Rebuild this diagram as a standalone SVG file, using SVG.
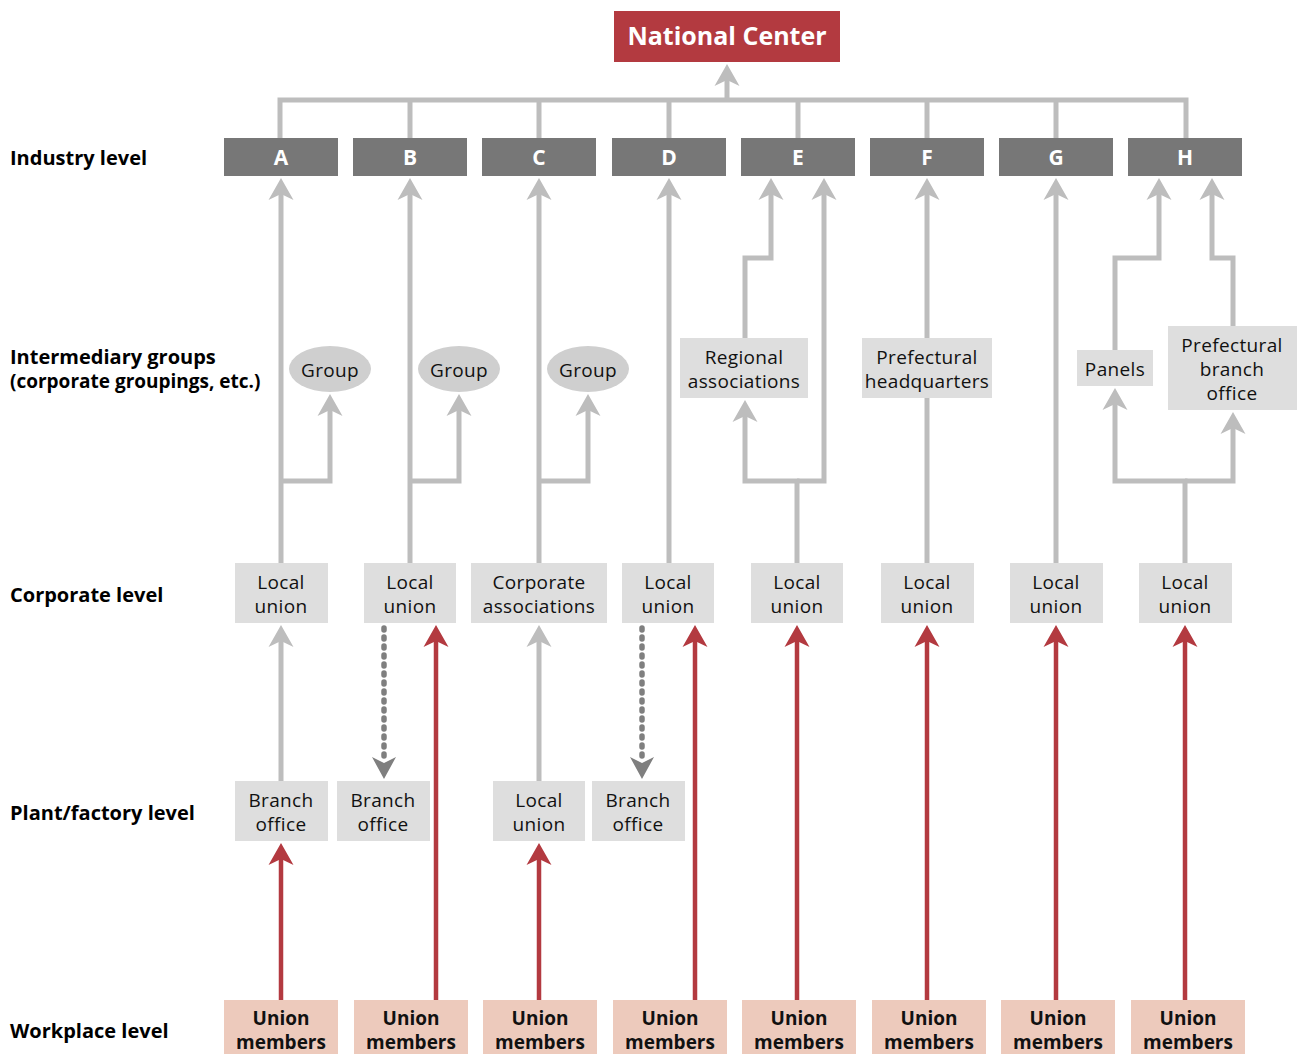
<svg xmlns="http://www.w3.org/2000/svg" width="1302" height="1054" viewBox="0 0 1302 1054">
<defs>
<style>
text{font-family:"Open Sans","Noto Sans","Liberation Sans",sans-serif;}
.lbl{font-size:20px;font-weight:bold;fill:#000;}
.t{font-size:19px;letter-spacing:0.35px;fill:#111;text-anchor:middle;}
.tb{font-size:19px;font-weight:bold;fill:#111;text-anchor:middle;}
.ind{font-size:21px;font-weight:bold;fill:#fff;text-anchor:middle;}
.box{fill:#dedede;}
.ibox{fill:#777777;}
.um{fill:#edcabc;}
.g{fill:none;stroke:#bdbdbd;stroke-width:5;}
.r{fill:none;stroke:#b33a40;stroke-width:4.5;}
.d{fill:none;stroke:#7f7f7f;stroke-width:5.5;stroke-linecap:round;stroke-dasharray:2 7;}
</style>
<marker id="ag" markerUnits="userSpaceOnUse" markerWidth="24" markerHeight="28" refX="6" refY="13" orient="auto" overflow="visible"><path d="M22,13 L0,0.5 L6,13 L0,25.5 Z" fill="#bdbdbd"/></marker>
<marker id="ar" markerUnits="userSpaceOnUse" markerWidth="24" markerHeight="28" refX="6" refY="13" orient="auto" overflow="visible"><path d="M22,13 L0,0.5 L6,13 L0,25.5 Z" fill="#b33a40"/></marker>
<marker id="ad" markerUnits="userSpaceOnUse" markerWidth="24" markerHeight="28" refX="6" refY="13" orient="auto" overflow="visible"><path d="M22,13 L0,1 L6,13 L0,25 Z" fill="#7f7f7f"/></marker>
</defs>
<rect width="1302" height="1054" fill="#fff"/>

<g id="level-labels">
<text class="lbl" x="10" y="165">Industry level</text>
<text class="lbl" x="10" y="364">Intermediary groups</text>
<text class="lbl" x="10" y="388" style="font-size:19px">(corporate groupings, etc.)</text>
<text class="lbl" x="10" y="602">Corporate level</text>
<text class="lbl" x="10" y="820">Plant/factory level</text>
<text class="lbl" x="10" y="1038">Workplace level</text>
</g>

<g id="connectors">
<path class="g" d="M280,138 V100 H1186 V138"/>
<path class="g" d="M410,100 V138 M539,100 V138 M669,100 V138 M798,100 V138 M927,100 V138 M1056,100 V138"/>
<path class="g" d="M727,100 V80" marker-end="url(#ag)"/>
<path class="g" d="M281,563 V194" marker-end="url(#ag)"/>
<path class="g" d="M281,481 H330 V410" marker-end="url(#ag)"/>
<path class="g" d="M410,563 V194" marker-end="url(#ag)"/>
<path class="g" d="M410,481 H459 V410" marker-end="url(#ag)"/>
<path class="g" d="M539,563 V194" marker-end="url(#ag)"/>
<path class="g" d="M539,481 H588 V410" marker-end="url(#ag)"/>
<path class="g" d="M669,563 V194" marker-end="url(#ag)"/>
<path class="g" d="M797,563 V481 H745 V416" marker-end="url(#ag)"/>
<path class="g" d="M797,481 H824 V194" marker-end="url(#ag)"/>
<path class="g" d="M745,338 V258 H771 V194" marker-end="url(#ag)"/>
<path class="g" d="M927,563 V194" marker-end="url(#ag)"/>
<path class="g" d="M1056,563 V194" marker-end="url(#ag)"/>
<path class="g" d="M1185,563 V481 H1115 V404" marker-end="url(#ag)"/>
<path class="g" d="M1185,481 H1233 V428" marker-end="url(#ag)"/>
<path class="g" d="M1115,350 V258 H1159 V194" marker-end="url(#ag)"/>
<path class="g" d="M1233,326 V258 H1212 V194" marker-end="url(#ag)"/>
<path class="g" d="M281,781 V641" marker-end="url(#ag)"/>
<path class="g" d="M539,781 V641" marker-end="url(#ag)"/>
<path class="d" d="M384,628 V763" marker-end="url(#ad)"/>
<path class="d" d="M642,628 V763" marker-end="url(#ad)"/>
<path class="r" d="M281,1000 V859" marker-end="url(#ar)"/>
<path class="r" d="M436,1000 V641" marker-end="url(#ar)"/>
<path class="r" d="M539,1000 V859" marker-end="url(#ar)"/>
<path class="r" d="M695,1000 V641" marker-end="url(#ar)"/>
<path class="r" d="M797,1000 V641" marker-end="url(#ar)"/>
<path class="r" d="M927,1000 V641" marker-end="url(#ar)"/>
<path class="r" d="M1056,1000 V641" marker-end="url(#ar)"/>
<path class="r" d="M1185,1000 V641" marker-end="url(#ar)"/>
</g>

<g id="national-center"><rect x="614" y="11" width="226" height="51" fill="#b33a40"/><text x="727" y="45" font-size="25" font-weight="bold" fill="#fff" text-anchor="middle">National Center</text></g>

<g id="ind-A"><rect class="ibox" x="224" y="138" width="114" height="38"/><text class="ind" x="281" y="165">A</text></g>
<g id="ind-B"><rect class="ibox" x="353" y="138" width="114" height="38"/><text class="ind" x="410" y="165">B</text></g>
<g id="ind-C"><rect class="ibox" x="482" y="138" width="114" height="38"/><text class="ind" x="539" y="165">C</text></g>
<g id="ind-D"><rect class="ibox" x="612" y="138" width="114" height="38"/><text class="ind" x="669" y="165">D</text></g>
<g id="ind-E"><rect class="ibox" x="741" y="138" width="114" height="38"/><text class="ind" x="798" y="165">E</text></g>
<g id="ind-F"><rect class="ibox" x="870" y="138" width="114" height="38"/><text class="ind" x="927" y="165">F</text></g>
<g id="ind-G"><rect class="ibox" x="999" y="138" width="114" height="38"/><text class="ind" x="1056" y="165">G</text></g>
<g id="ind-H"><rect class="ibox" x="1128" y="138" width="114" height="38"/><text class="ind" x="1185" y="165">H</text></g>

<g id="group-A"><ellipse cx="330" cy="369" rx="41" ry="23" fill="#cfcfcf"/><text class="t" x="330" y="377">Group</text></g>
<g id="group-B"><ellipse cx="459" cy="369" rx="41" ry="23" fill="#cfcfcf"/><text class="t" x="459" y="377">Group</text></g>
<g id="group-C"><ellipse cx="588" cy="369" rx="41" ry="23" fill="#cfcfcf"/><text class="t" x="588" y="377">Group</text></g>
<g id="regional"><rect class="box" x="680" y="338" width="128" height="60"/><text class="t" x="744" y="364">Regional</text><text class="t" x="744" y="388">associations</text></g>
<g id="pref-hq"><rect class="box" x="862" y="338" width="130" height="60"/><text class="t" x="927" y="364">Prefectural</text><text class="t" x="927" y="388">headquarters</text></g>
<g id="panels"><rect class="box" x="1077" y="350" width="76" height="36"/><text class="t" x="1115" y="376">Panels</text></g>
<g id="pref-branch"><rect class="box" x="1168" y="326" width="129" height="84"/><text class="t" x="1232" y="352">Prefectural</text><text class="t" x="1232" y="376">branch</text><text class="t" x="1232" y="400">office</text></g>

<g id="corp-A"><rect class="box" x="235" y="563" width="93" height="60"/><text class="t" x="281" y="589">Local</text><text class="t" x="281" y="613">union</text></g>
<g id="corp-B"><rect class="box" x="364" y="563" width="92" height="60"/><text class="t" x="410" y="589">Local</text><text class="t" x="410" y="613">union</text></g>
<g id="corp-C"><rect class="box" x="471" y="563" width="136" height="60"/><text class="t" x="539" y="589">Corporate</text><text class="t" x="539" y="613">associations</text></g>
<g id="corp-D"><rect class="box" x="622" y="563" width="92" height="60"/><text class="t" x="668" y="589">Local</text><text class="t" x="668" y="613">union</text></g>
<g id="corp-E"><rect class="box" x="751" y="563" width="92" height="60"/><text class="t" x="797" y="589">Local</text><text class="t" x="797" y="613">union</text></g>
<g id="corp-F"><rect class="box" x="881" y="563" width="93" height="60"/><text class="t" x="927" y="589">Local</text><text class="t" x="927" y="613">union</text></g>
<g id="corp-G"><rect class="box" x="1010" y="563" width="93" height="60"/><text class="t" x="1056" y="589">Local</text><text class="t" x="1056" y="613">union</text></g>
<g id="corp-H"><rect class="box" x="1139" y="563" width="93" height="60"/><text class="t" x="1185" y="589">Local</text><text class="t" x="1185" y="613">union</text></g>

<g id="plant-A"><rect class="box" x="235" y="781" width="93" height="60"/><text class="t" x="281" y="807">Branch</text><text class="t" x="281" y="831">office</text></g>
<g id="plant-B"><rect class="box" x="337" y="781" width="93" height="60"/><text class="t" x="383" y="807">Branch</text><text class="t" x="383" y="831">office</text></g>
<g id="plant-C"><rect class="box" x="493" y="781" width="92" height="60"/><text class="t" x="539" y="807">Local</text><text class="t" x="539" y="831">union</text></g>
<g id="plant-D"><rect class="box" x="592" y="781" width="93" height="60"/><text class="t" x="638" y="807">Branch</text><text class="t" x="638" y="831">office</text></g>

<g id="um-A"><rect class="um" x="224" y="1000" width="114" height="54"/><text class="tb" x="281" y="1025">Union</text><text class="tb" x="281" y="1049">members</text></g>
<g id="um-B"><rect class="um" x="354" y="1000" width="114" height="54"/><text class="tb" x="411" y="1025">Union</text><text class="tb" x="411" y="1049">members</text></g>
<g id="um-C"><rect class="um" x="483" y="1000" width="114" height="54"/><text class="tb" x="540" y="1025">Union</text><text class="tb" x="540" y="1049">members</text></g>
<g id="um-D"><rect class="um" x="613" y="1000" width="114" height="54"/><text class="tb" x="670" y="1025">Union</text><text class="tb" x="670" y="1049">members</text></g>
<g id="um-E"><rect class="um" x="742" y="1000" width="114" height="54"/><text class="tb" x="799" y="1025">Union</text><text class="tb" x="799" y="1049">members</text></g>
<g id="um-F"><rect class="um" x="872" y="1000" width="114" height="54"/><text class="tb" x="929" y="1025">Union</text><text class="tb" x="929" y="1049">members</text></g>
<g id="um-G"><rect class="um" x="1001" y="1000" width="114" height="54"/><text class="tb" x="1058" y="1025">Union</text><text class="tb" x="1058" y="1049">members</text></g>
<g id="um-H"><rect class="um" x="1131" y="1000" width="114" height="54"/><text class="tb" x="1188" y="1025">Union</text><text class="tb" x="1188" y="1049">members</text></g>
</svg>
